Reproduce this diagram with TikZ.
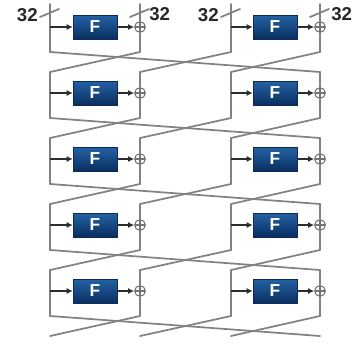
\documentclass[tikz,border=0pt]{standalone}
\usepackage{fontspec}
\setmainfont{Liberation Sans}
\usetikzlibrary{arrows.meta}

\begin{document}
\begin{tikzpicture}[x=0.75pt,y=0.75pt,yscale=-1,xscale=1,
  wire/.style={draw={rgb, 255:red, 130; green, 130; blue, 130 }, line width=1.3, line cap=round},
  fblock/.style={draw={rgb, 255:red, 12; green, 42; blue, 82 }, top color={rgb, 255:red, 36; green, 98; blue, 164 }, bottom color={rgb, 255:red, 10; green, 46; blue, 96 }, minimum width=33pt, minimum height=18pt, inner sep=0, text=white, font=\fontsize{13}{13}\selectfont\bfseries},
  xorop/.style={circle, draw={rgb, 255:red, 115; green, 115; blue, 115 }, line width=0.8, minimum size=8pt, inner sep=0, path picture={\draw[line width=0.8, draw={rgb, 255:red, 115; green, 115; blue, 115 }] (path picture bounding box.north) -- (path picture bounding box.south) (path picture bounding box.west) -- (path picture bounding box.east);}},
  feed/.style={-{Latex[length=4.5pt,width=4.5pt]}, line width=0.9, draw={rgb, 255:red, 45; green, 45; blue, 45 }},
  bits/.style={inner sep=0, text={rgb, 255:red, 40; green, 40; blue, 40 }, font=\fontsize{14}{14}\selectfont\bfseries}
]
\useasboundingbox (0,0) rectangle (359,343);

%Rounds: two F blocks per round
\foreach \k in {0,...,4}{
  \pgfmathsetmacro\ytop{\k==0 ? 4 : 6+66*\k}
  \pgfmathsetmacro\ybot{52+66*\k}
  \pgfmathsetmacro\ymid{27+66*\k}
  \foreach \b/\xx in {0/50,1/140,2/231,3/320}{
    \coordinate (t-\b-\k) at (\xx,\ytop);
    \coordinate (u-\b-\k) at (\xx,\ybot);
    \coordinate (m-\b-\k) at (\xx,\ymid);
  }
  %Shape: F blocks
  \node[fblock] (f-0-\k) at (95,\ymid) {F};
  \node[fblock] (f-1-\k) at (275,\ymid) {F};
  %Shape: XOR
  \node[xorop] (x-0-\k) at (m-1-\k) {};
  \node[xorop] (x-1-\k) at (m-3-\k) {};
  %Straight Lines: branches
  \draw[wire] (t-0-\k) -- (u-0-\k);
  \draw[wire] (t-2-\k) -- (u-2-\k);
  \draw[wire] (t-1-\k) -- (x-0-\k.north) (x-0-\k.south) -- (u-1-\k);
  \draw[wire] (t-3-\k) -- (x-1-\k.north) (x-1-\k.south) -- (u-3-\k);
  %Straight Lines: into and out of F
  \draw[feed] (m-0-\k) -- (f-0-\k);
  \draw[feed] (f-0-\k) -- (x-0-\k);
  \draw[feed] (m-2-\k) -- (f-1-\k);
  \draw[feed] (f-1-\k) -- (x-1-\k);
}

%Branch ends below the last round
\foreach \b/\xx in {0/50,1/140,2/231,3/320}{
  \coordinate (t-\b-5) at (\xx,336);
}

%Straight Lines: word rotation between rounds
\foreach \k [evaluate=\k as \n using int(\k+1)] in {0,...,4}{
  \draw[wire] (u-0-\k) -- (t-3-\n);
  \draw[wire] (u-1-\k) -- (t-0-\n);
  \draw[wire] (u-2-\k) -- (t-1-\n);
  \draw[wire] (u-3-\k) -- (t-2-\n);
}

%Straight Lines: width marks
\draw[wire] (40,17) -- (59,9);
\draw[wire] (130,17) -- (149,9);
\draw[wire] (221,17) -- (240,9);
\draw[wire] (310,17) -- (329,9);

% Text Node
\node[bits, anchor=east] (w-0) at (38,15) {32};
% Text Node
\node[bits, anchor=west] (w-1) at (149,14) {32};
% Text Node
\node[bits, anchor=east] (w-2) at (219,15) {32};
% Text Node
\node[bits, anchor=west] (w-3) at (331,14) {32};

\end{tikzpicture}
\end{document}
